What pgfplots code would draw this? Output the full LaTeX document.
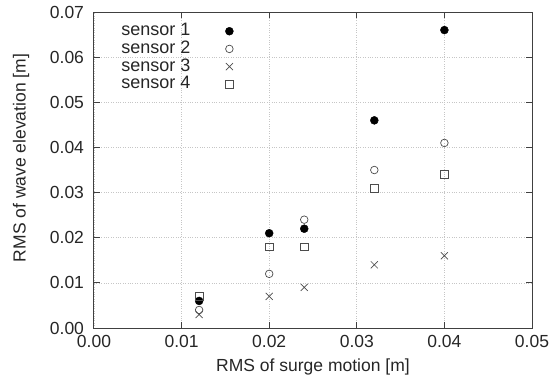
\documentclass[border=0pt]{standalone}
\usepackage{pgfplots}
\pgfplotsset{compat=1.18}
\usepackage{fontspec}
\setmainfont{Liberation Sans}
\begin{document}
\fontsize{17.5}{19}\selectfont
\begin{tikzpicture}
\begin{axis}[
  width=438pt, height=316pt, scale only axis,
  xmin=0, xmax=0.05, ymin=0, ymax=0.07,
  xtick={0,0.01,...,0.05}, ytick={0,0.01,...,0.07},
  scaled ticks=false,
  /pgf/number format/.cd, fixed, fixed zerofill, precision=2, assume math mode=true, /pgfplots/.cd,
  tick align=inside, major tick length=6pt,
  grid=major, grid style={dotted, gray!45, line width=0.7pt},
  axis line style={line width=1pt, black!75}, tick style={line width=1pt, black!75},
  xticklabel style={yshift=-1pt, text=black!85},
  yticklabel style={xshift=-4pt, text=black!85},
  xlabel={RMS of surge motion [m]},
  ylabel={RMS of wave elevation [m]},
  every axis x label/.style={at={(axis description cs:0.5,-0.1234)}, anchor=center, text=black!85},
  every axis y label/.style={at={(axis description cs:-0.1667,0.538)}, rotate=90, anchor=center, text=black!85},
  legend style={draw=none, fill=none, inner sep=0pt, at={(axis description cs:0.062,0.9636)}, anchor=north west,
    font=\fontsize{18}{18}\selectfont, row sep=2.7pt, text=black!85,
    nodes={inner sep=0pt, text height=12pt, text depth=3pt},
    /tikz/every odd column/.append style={column sep=35pt}},
  legend cell align=left, legend plot pos=right,
]
\addplot[only marks, mark=*, mark size=4pt, black] coordinates {(0.012,0.006) (0.020,0.021) (0.024,0.022) (0.032,0.046) (0.040,0.066)};
\addlegendentry{sensor 1}
\addplot[only marks, mark=o, mark size=3.8pt, black!70, line width=0.7pt] coordinates {(0.012,0.004) (0.020,0.012) (0.024,0.024) (0.032,0.035) (0.040,0.041)};
\addlegendentry{sensor 2}
\addplot[only marks, mark=x, mark size=5pt, black!70, line width=0.7pt] coordinates {(0.012,0.003) (0.020,0.007) (0.024,0.009) (0.032,0.014) (0.040,0.016)};
\addlegendentry{sensor 3}
\addplot[only marks, mark=square, mark size=3.8pt, black!70, line width=0.7pt] coordinates {(0.012,0.007) (0.020,0.018) (0.024,0.018) (0.032,0.031) (0.040,0.034)};
\addlegendentry{sensor 4}
\end{axis}
\path (current axis.south west) ++(-94pt,-59pt) rectangle ([shift={(26pt,12pt)}]current axis.north east);
\end{tikzpicture}
\end{document}
